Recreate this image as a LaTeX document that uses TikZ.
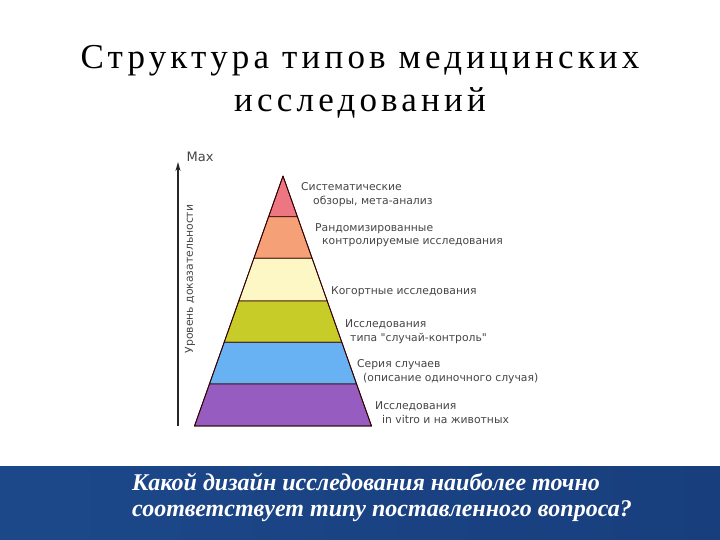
\documentclass[tikz,border=0pt]{standalone}
\usepackage{fontspec}
\setmainfont{Liberation Serif}
\newfontfamily\lblfont{DejaVu Sans}
\usetikzlibrary{arrows.meta}
\definecolor{bandA}{RGB}{236,118,130}
\definecolor{bandB}{RGB}{245,160,118}
\definecolor{bandC}{RGB}{252,247,196}
\definecolor{bandD}{RGB}{200,204,40}
\definecolor{bandE}{RGB}{104,178,244}
\definecolor{bandF}{RGB}{150,92,192}
\definecolor{banL}{RGB}{28,72,138}
\definecolor{banR}{RGB}{24,62,125}
\definecolor{lbl}{RGB}{70,70,70}
\tikzset{
  band/.style={draw=black!80!red, line width=0.8pt, line join=round},
  lab/.style={font=\lblfont\fontsize{10.8}{12}\selectfont, text=lbl, anchor=west, inner sep=0pt},
}
\begin{document}
\begin{tikzpicture}[x=1pt,y=-1pt]
\useasboundingbox (0,0) rectangle (720,540);
\fill[white] (0,0) rectangle (720,540);
% title
\node[font=\fontsize{35}{43}\selectfont, align=center, inner sep=0pt] (title) at (360,82)
  {\addfontfeatures{LetterSpace=12}Структура типов медицинских\\\addfontfeatures{LetterSpace=12}исследований};
% pyramid bands (apex 283,176; base 195..372 at 426)
\coordinate (apex) at (283,176);
\fill[band, fill=bandA] (283,176) -- (297.4,216.7) -- (268.6,216.7) -- cycle;
\fill[band, fill=bandB] (268.6,216.7) -- (297.4,216.7) -- (312.1,258.3) -- (253.9,258.3) -- cycle;
\fill[band, fill=bandC] (253.9,258.3) -- (312.1,258.3) -- (327.2,301) -- (238.8,301) -- cycle;
\fill[band, fill=bandD] (238.8,301) -- (327.2,301) -- (341.8,342.3) -- (224.2,342.3) -- cycle;
\fill[band, fill=bandE] (224.2,342.3) -- (341.8,342.3) -- (356.5,384) -- (209.5,384) -- cycle;
\fill[band, fill=bandF] (209.5,384) -- (356.5,384) -- (371.5,426) -- (194.5,426) -- cycle;
\draw[band] (283,176) -- (371.5,426) -- (194.5,426) -- cycle;
% axis
\coordinate (axb) at (178,426);
\coordinate (axt) at (178,162);
\draw[line width=1.5pt, black!85, -{Stealth[length=9pt,width=5pt]}] (axb) -- (axt);
\node[font=\lblfont\fontsize{13}{14}\selectfont, text=lbl, inner sep=0pt] (max) at (200,157) {Max};
\node[font=\lblfont\fontsize{10.8}{12}\selectfont, text=lbl, rotate=90, inner sep=0pt] (axlab) at (190,279) {Уровень доказательности};
% labels
\node[lab] (l1a) at (301,187) {Систематические};
\node[lab] (l1b) at (313,201) {обзоры, мета-анализ};
\node[lab] (l2a) at (315,229) {Рандомизированные};
\node[lab] (l2b) at (322,243) {контролируемые исследования};
\node[lab] (l3) at (331,292) {Когортные исследования};
\node[lab] (l4a) at (345,324) {Исследования};
\node[lab] (l4b) at (350,339) {типа "случай-контроль"};
\node[lab] (l5a) at (357,365) {Серия случаев};
\node[lab] (l5b) at (363,379) {(описание одиночного случая)};
\node[lab] (l6a) at (375,406) {Исследования};
\node[lab] (l6b) at (382,419) {in vitro и на животных};
% banner
\shade[left color=banL, right color=banR] (0,466) rectangle (720,540);
\node[font=\bfseries\itshape\fontsize{24}{26}\selectfont, text=white, align=left, anchor=west, inner sep=0pt] (q) at (132,497)
  {Какой дизайн исследования наиболее точно\\соответствует типу поставленного вопроса?};
\end{tikzpicture}
\end{document}
